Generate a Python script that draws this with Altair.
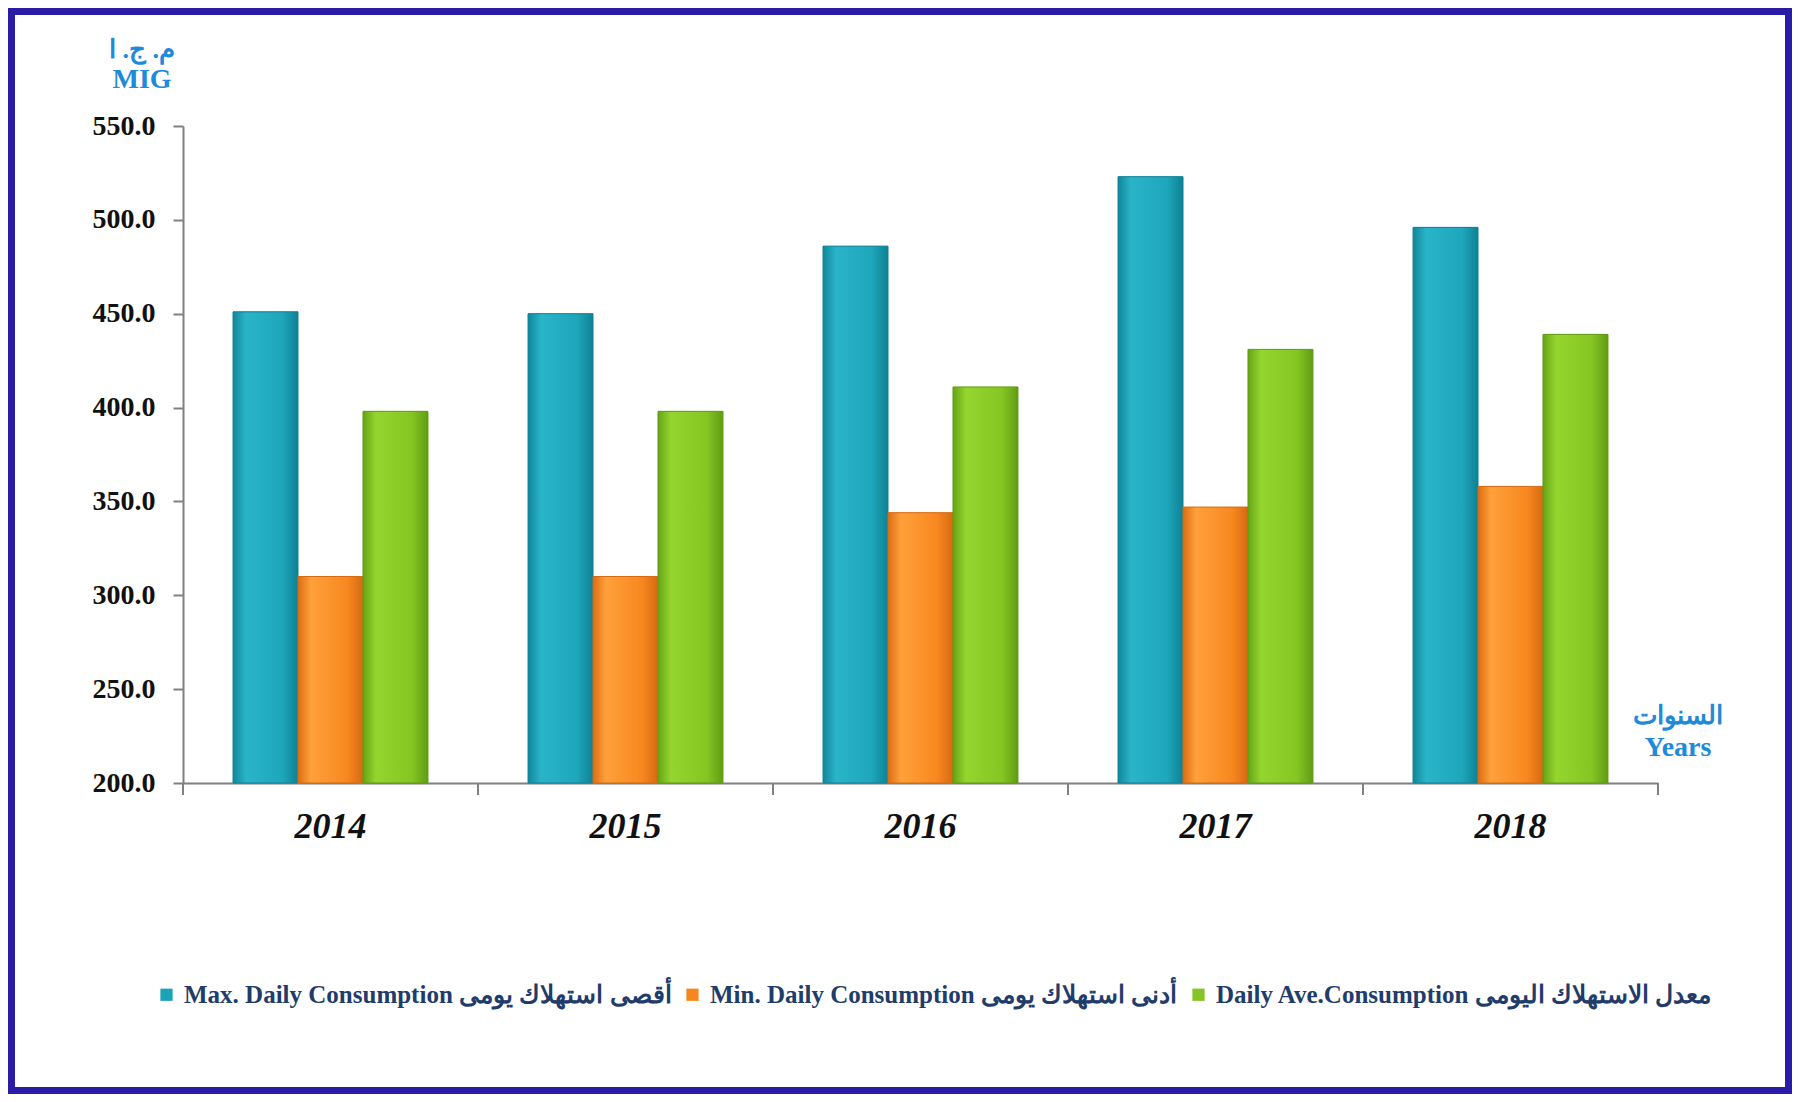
import altair as alt
import pandas as pd

years = ["2014", "2015", "2016", "2017", "2018"]
series = [
    "Max. Daily Consumption أقصى استهلاك يومى",
    "Min. Daily Consumption أدنى استهلاك يومى",
    "Daily Ave.Consumption معدل الاستهلاك اليومى",
]
max_vals = [451, 450, 486, 523, 496]
min_vals = [310, 310, 344, 347, 358]
avg_vals = [398, 398, 411, 431, 439]
unit_ar = "م. ج. ا"
unit_en = "MIG"
years_ar = "السنوات"
years_en = "Years"
y_ticks = [200, 250, 300, 350, 400, 450, 500, 550]

base_colors = ["#1aa2b7", "#f7861e", "#84c424"]
grad_stops = [
    ["#11869a", "#2ab4c9", "#1ea7bc", "#0f8194"],
    ["#dc6d14", "#ffa03a", "#f8881f", "#d66a12"],
    ["#66a416", "#94d52e", "#85c623", "#609c14"],
]

rows = []
for vals, s in zip([max_vals, min_vals, avg_vals], series):
    for y, v in zip(years, vals):
        rows.append({"year": y, "series": s, "value": v})
df = pd.DataFrame(rows)

W, H = 1475, 657
SERIF = "Liberation Serif"
BLUE = "#1f8ad8"

x_enc = alt.X("year:N", title=None, sort=years,
              scale=alt.Scale(paddingInner=0, paddingOuter=0),
              axis=alt.Axis(labelFont=SERIF, labelFontSize=36, labelFontWeight="bold",
                            labelFontStyle="italic", labelColor="#111111", labelAngle=0,
                            ticks=False, labelPadding=26, domainColor="#808080",
                            domainWidth=2, grid=False))
xoff = alt.XOffset("series:N", sort=series,
                   scale=alt.Scale(domain=series, paddingInner=0, paddingOuter=0.77))
y_enc = alt.Y("value:Q", title=None,
              scale=alt.Scale(domain=[200, 550], nice=False, zero=False),
              axis=alt.Axis(values=y_ticks, format=".1f", labelFont=SERIF, labelFontSize=28,
                            labelFontWeight="bold", labelColor="#111111", tickSize=10,
                            tickColor="#808080", tickWidth=2, labelPadding=18,
                            domainColor="#808080", domainWidth=2, grid=False))

bars = alt.Chart(df).mark_bar().encode(
    x=x_enc, xOffset=xoff, y=y_enc, y2=alt.datum(200),
    color=alt.Color("series:N", sort=series,
                    scale=alt.Scale(domain=series, range=base_colors),
                    legend=alt.Legend(title=None, orient="none", legendX=-29, legendY=856,
                                      direction="horizontal", columns=3, columnPadding=8,
                                      symbolType="square", symbolSize=150,
                                      symbolStrokeWidth=0, labelFont=SERIF,
                                      labelFontSize=25, labelFontWeight="bold",
                                      labelColor="#1f3c6b", labelLimit=2000,
                                      labelOffset=5)),
)

overlays = []
for s, stops in zip(series, grad_stops):
    grad = alt.LinearGradient(
        gradient="linear", x1=0, x2=1, y1=0, y2=0,
        stops=[alt.GradientStop(color=stops[0], offset=0),
               alt.GradientStop(color=stops[1], offset=0.2),
               alt.GradientStop(color=stops[2], offset=0.75),
               alt.GradientStop(color=stops[3], offset=1)])
    overlays.append(
        alt.Chart(df).transform_filter(alt.datum.series == s)
        .mark_bar(fill=grad, stroke=stops[3], strokeWidth=1)
        .encode(x=alt.X("year:N", sort=years),
                xOffset=alt.XOffset("series:N", sort=series),
                y=alt.Y("value:Q"), y2=alt.datum(200))
    )

tick_df = pd.DataFrame({"year": years})
ticks = alt.Chart(tick_df).mark_rule(color="#808080", strokeWidth=2).encode(
    x=alt.X("year:N", sort=years, bandPosition=0),
    y=alt.value(H), y2=alt.value(H + 12))
end_tick = alt.Chart(pd.DataFrame({"a": [0]})).mark_rule(color="#808080", strokeWidth=2).encode(
    x=alt.value(W), y=alt.value(H), y2=alt.value(H + 12))

def label(txt, x, y, size=28):
    return alt.Chart(pd.DataFrame({"t": [txt]})).mark_text(
        font=SERIF, fontSize=size, fontWeight="bold", color=BLUE, align="center",
        baseline="middle").encode(text="t:N", x=alt.value(x), y=alt.value(y))

frame = alt.Chart(pd.DataFrame({"a": [0]})).mark_rect(
    fillOpacity=0, stroke="#2a1ca6", strokeWidth=7).encode(
    x=alt.value(-171.5), x2=alt.value(1605.5), y=alt.value(-114.5), y2=alt.value(964.5))

chart = alt.layer(
    bars, *overlays, ticks, end_tick,
    label(unit_ar, -41, -76, 26), label(unit_en, -41, -46),
    label(years_ar, 1495, 590, 26), label(years_en, 1495, 622),
    frame,
).properties(
    width=W, height=H, background="white",
    autosize=alt.AutoSizeParams(type="none"),
    padding={"left": 175, "top": 118, "right": 134, "bottom": 311},
).configure_view(stroke="transparent", strokeWidth=0).configure_axis(grid=False)

chart.save("out.html", embed_options={"renderer": "svg", "actions": False})
